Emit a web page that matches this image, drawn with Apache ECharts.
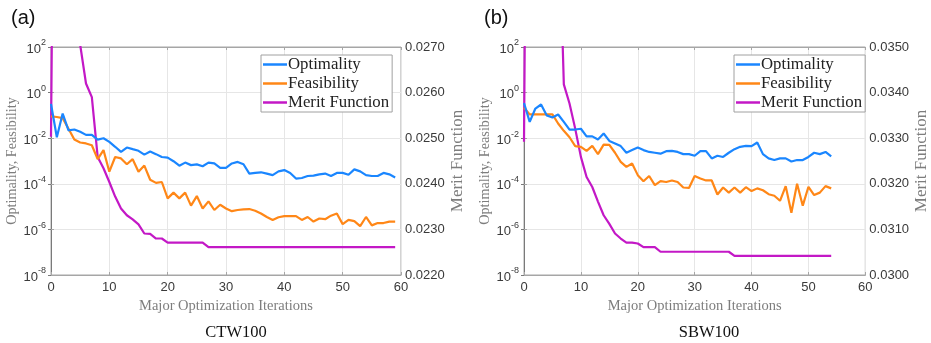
<!DOCTYPE html>
<html>
<head>
<meta charset="utf-8">
<script src="https://cdn.jsdelivr.net/npm/echarts@6/dist/echarts.min.js"></script>
<style>
  html, body { margin: 0; padding: 0; background: #fff; }
  #chart { width: 931px; height: 343px; }
</style>
</head>
<body>
<div id="chart"></div>
<script>
// Convergence histories of the two optimisation runs.
// Optimality / Feasibility use the left log axis, Merit Function the right linear axis.
const seriesNames = ['Optimality', 'Feasibility', 'Merit Function'];
const panelLabels = ['(a)', '(b)'];
const caseNames = ['CTW100', 'SBW100'];
const xTicks = [0, 10, 20, 30, 40, 50, 60];

// CTW100
const optimalityA = [
  3.2e-1, 1.1e-2, 1.2e-1, 2.2e-2, 2.4e-2, 1.9e-2, 1.4e-2, 1.4e-2, 8.7e-3, 1.0e-2,
  6.9e-3, 4.2e-3, 2.5e-3, 3.9e-3, 3.3e-3, 2.8e-3, 1.9e-3, 2.6e-3, 2.0e-3, 1.5e-3,
  1.4e-3, 9.8e-4, 6.2e-4, 8.5e-4, 6.6e-4, 7.1e-4, 5.9e-4, 8.5e-4, 7.8e-4, 5.0e-4,
  5.0e-4, 7.8e-4, 9.1e-4, 7.2e-4, 2.8e-4, 3.0e-4, 3.2e-4, 2.8e-4, 2.4e-4, 3.5e-4,
  4.0e-4, 3.0e-4, 1.7e-4, 1.8e-4, 2.2e-4, 2.3e-4, 2.6e-4, 2.8e-4, 2.2e-4, 3.0e-4,
  3.0e-4, 2.5e-4, 4.3e-4, 3.5e-4, 2.4e-4, 2.2e-4, 2.2e-4, 3.0e-4, 2.6e-4, 1.9e-4
];
const feasibilityA = [
  9.1e-2, 8.5e-2, 7.6e-2, 2.6e-2, 8.7e-3, 6.5e-3, 5.9e-3, 4.9e-3, 1.2e-3, 3.0e-3,
  3.4e-4, 1.5e-3, 1.3e-3, 7.2e-4, 1.2e-3, 3.4e-4, 6.3e-4, 1.5e-4, 1.1e-4, 1.2e-4,
  2.3e-5, 4.1e-5, 2.3e-5, 4.1e-5, 1.1e-5, 2.9e-5, 8.3e-6, 1.7e-5, 7.1e-6, 1.2e-5,
  8.3e-6, 6.3e-6, 7.1e-6, 7.6e-6, 7.8e-6, 6.6e-6, 5.0e-6, 3.5e-6, 2.6e-6, 3.4e-6,
  3.8e-6, 3.8e-6, 3.8e-6, 2.6e-6, 3.5e-6, 2.2e-6, 3.0e-6, 2.8e-6, 4.0e-6, 5.0e-6,
  1.7e-6, 2.6e-6, 2.3e-6, 1.4e-6, 3.5e-6, 1.5e-6, 1.9e-6, 1.9e-6, 2.2e-6, 2.2e-6
];
const meritA = [
  0.02503, 0.04000, 0.04000, 0.04000, 0.04000, 0.02705, 0.02620, 0.02590, 0.02459, 0.02434,
  0.02404, 0.02372, 0.02346, 0.02331, 0.02322, 0.02311, 0.02291, 0.02290, 0.02280, 0.02280,
  0.02271, 0.02271, 0.02271, 0.02271, 0.02271, 0.02271, 0.02271, 0.02261, 0.02261, 0.02261,
  0.02261, 0.02261, 0.02261, 0.02261, 0.02261, 0.02261, 0.02261, 0.02261, 0.02261, 0.02261,
  0.02261, 0.02261, 0.02261, 0.02261, 0.02261, 0.02261, 0.02261, 0.02261, 0.02261, 0.02261,
  0.02261, 0.02261, 0.02261, 0.02261, 0.02261, 0.02261, 0.02261, 0.02261, 0.02261, 0.02261
];
const meritTicksA = [0.0220, 0.0270];

// SBW100
const optimalityB = [
  3.5e-1, 5.2e-2, 2.0e-1, 3.0e-1, 1.0e-1, 8.1e-2, 1.1e-1, 5.2e-2, 2.4e-2, 2.4e-2,
  2.6e-2, 1.2e-2, 1.2e-2, 8.7e-3, 1.6e-2, 7.6e-3, 5.9e-3, 4.5e-3, 2.3e-3, 3.0e-3,
  3.9e-3, 3.0e-3, 2.5e-3, 2.3e-3, 2.1e-3, 2.7e-3, 2.8e-3, 2.5e-3, 2.0e-3, 2.0e-3,
  1.7e-3, 2.7e-3, 2.7e-3, 1.3e-3, 1.7e-3, 1.5e-3, 2.3e-3, 3.3e-3, 4.2e-3, 4.6e-3,
  4.5e-3, 6.5e-3, 2.0e-3, 1.3e-3, 1.1e-3, 1.3e-3, 1.3e-3, 9.5e-4, 1.1e-3, 1.1e-3,
  1.5e-3, 2.3e-3, 2.0e-3, 2.5e-3, 1.6e-3
];
const feasibilityB = [
  2.2e-1, 1.1e-1, 1.1e-1, 1.1e-1, 1.1e-1, 1.1e-1, 4.4e-2, 2.1e-2, 1.1e-2, 4.5e-3,
  4.2e-3, 2.8e-3, 4.6e-3, 2.0e-3, 5.2e-3, 5.1e-3, 2.3e-3, 9.1e-4, 5.5e-4, 7.8e-4,
  2.4e-4, 1.3e-4, 2.2e-4, 8.7e-5, 1.3e-4, 1.2e-4, 1.4e-4, 1.2e-4, 6.9e-5, 6.6e-5,
  2.2e-4, 1.7e-4, 1.4e-4, 1.4e-4, 3.4e-5, 6.9e-5, 4.1e-5, 6.9e-5, 4.1e-5, 7.1e-5,
  4.8e-5, 6.3e-5, 5.2e-5, 3.5e-5, 3.0e-5, 1.8e-5, 7.9e-5, 5.4e-6, 1.0e-4, 1.1e-5,
  7.4e-5, 3.2e-5, 4.1e-5, 7.9e-5, 6.3e-5
];
const meritB = [
  0.03292, 0.05000, 0.05000, 0.05000, 0.05000, 0.05000, 0.03850, 0.03418, 0.03376, 0.03321,
  0.03259, 0.03215, 0.03193, 0.03161, 0.03131, 0.03112, 0.03091, 0.03080, 0.03071, 0.03071,
  0.03069, 0.03061, 0.03061, 0.03061, 0.03051, 0.03051, 0.03051, 0.03051, 0.03051, 0.03051,
  0.03051, 0.03051, 0.03051, 0.03051, 0.03051, 0.03051, 0.03051, 0.03042, 0.03042, 0.03042,
  0.03042, 0.03042, 0.03042, 0.03042, 0.03042, 0.03042, 0.03042, 0.03042, 0.03042, 0.03042,
  0.03042, 0.03042, 0.03042, 0.03042, 0.03042
];
const meritTicksB = [0.0300, 0.0350];

const colors = ['#1a86ff', '#ff8717', '#c318c6'];
const SERIF = '"Liberation Serif", "DejaVu Serif", serif';
const SANS = '"Liberation Sans", Arial, sans-serif';
const FRAME = '#a6a6a6';
const GRIDLINE = '#e6e6e6';
const NAME_GRAY = '#7d7d7d';

const panels = [
  { left: 51, opt: optimalityA, feas: feasibilityA, merit: meritA, mTicks: meritTicksA },
  { left: 524, opt: optimalityB, feas: feasibilityB, merit: meritB, mTicks: meritTicksB }
];
const PLOT_W = 350, PLOT_TOP = 47, PLOT_H = 228;

const pairs = arr => arr.map((v, i) => [i, v]);

const grid = [], xAxis = [], yAxis = [], series = [], legend = [], title = [];

panels.forEach((p, k) => {
  grid.push({
    left: p.left, top: PLOT_TOP, width: PLOT_W, height: PLOT_H,
    show: true, borderColor: FRAME, borderWidth: 1, backgroundColor: '#fff'
  });
  // bottom x axis with labels
  xAxis.push({
    type: 'value', gridIndex: k, min: xTicks[0], max: xTicks[xTicks.length - 1], interval: 10,
    name: 'Major Optimization Iterations', nameLocation: 'middle', nameGap: 19,
    nameTextStyle: { fontFamily: SERIF, fontSize: 14.5, color: NAME_GRAY },
    axisLine: { show: true, lineStyle: { color: FRAME } },
    axisTick: { show: true, inside: true, length: 3, lineStyle: { color: FRAME } },
    axisLabel: { fontFamily: SANS, fontSize: 13, color: '#3a3a3a', margin: 6 },
    splitLine: { show: true, lineStyle: { color: GRIDLINE, width: 1 } }
  });
  // top x axis (ticks only)
  xAxis.push({
    type: 'value', gridIndex: k, position: 'top', min: 0, max: 60, interval: 10,
    axisLine: { show: true, lineStyle: { color: FRAME } },
    axisTick: { show: true, inside: true, length: 3, lineStyle: { color: FRAME } },
    axisLabel: { show: false }, splitLine: { show: false }
  });
  // left log axis
  yAxis.push({
    type: 'log', logBase: 10, gridIndex: k, min: 1e-8, max: 1e2, interval: 2,
    name: 'Optimality, Feasibility', nameLocation: 'middle', nameGap: 30, nameRotate: 90,
    nameTextStyle: { fontFamily: SERIF, fontSize: 14.2, color: NAME_GRAY },
    axisLine: { show: true, lineStyle: { color: FRAME } },
    axisTick: { show: true, inside: true, length: 3, lineStyle: { color: FRAME } },
    minorTick: { show: false },
    axisLabel: {
      margin: 5, color: '#3a3a3a',
      formatter: v => '{b|10}{s|' + Math.round(Math.log10(v)) + '}',
      rich: {
        b: { fontFamily: SANS, fontSize: 13, color: '#3a3a3a', verticalAlign: 'bottom', lineHeight: 17 },
        s: { fontFamily: SANS, fontSize: 9, color: '#3a3a3a', verticalAlign: 'top', lineHeight: 17 }
      }
    },
    splitLine: { show: true, lineStyle: { color: GRIDLINE, width: 1 } }
  });
  // right merit axis
  yAxis.push({
    type: 'value', gridIndex: k, position: 'right', min: p.mTicks[0], max: p.mTicks[1], interval: 0.001,
    name: 'Merit Function', nameLocation: 'middle', nameGap: 44, nameRotate: 90,
    nameTextStyle: { fontFamily: SERIF, fontSize: 17, color: NAME_GRAY },
    axisLine: { show: true, lineStyle: { color: '#7a7a7a' } },
    axisTick: { show: true, inside: true, length: 3, lineStyle: { color: '#7a7a7a' } },
    axisLabel: { fontFamily: SANS, fontSize: 13, color: '#3a3a3a', margin: 4, formatter: v => v.toFixed(4) },
    splitLine: { show: false }
  });

  const data = [p.opt, p.feas, p.merit];
  data.forEach((arr, j) => {
    series.push({
      name: seriesNames[j], type: 'line',
      xAxisIndex: 2 * k, yAxisIndex: 2 * k + (j === 2 ? 1 : 0),
      data: pairs(arr), showSymbol: false, symbol: 'none', clip: true,
      lineStyle: { color: colors[j], width: 2.2 }, itemStyle: { color: colors[j] },
      z: 3 - j, animation: false
    });
  });

  legend.push({
    orient: 'vertical', left: p.left + 210, top: 55,
    data: seriesNames, icon: 'rect', itemWidth: 24, itemHeight: 2.5, itemGap: 2,
    padding: [1, 3, 1, 2], backgroundColor: '#fff', borderColor: '#a0a0a0', borderWidth: 1,
    textStyle: { fontFamily: SERIF, fontSize: 16.8, color: '#222', padding: [0, 0, 0, -4] },
    selectedMode: false
  });

  title.push({
    text: panelLabels[k], left: k === 0 ? 6 : 479, top: 3,
    textStyle: { fontFamily: SANS, fontSize: 20, fontWeight: 'normal', color: '#111' }
  });
  title.push({
    text: caseNames[k], left: p.left + PLOT_W / 2 + 5, top: 319, textAlign: 'center',
    textStyle: { fontFamily: SERIF, fontSize: 16.5, fontWeight: 'normal', color: '#111' }
  });
});

const chart = echarts.init(document.getElementById('chart'), null, { renderer: 'canvas' });
chart.setOption({
  animation: false, backgroundColor: '#fff', color: colors,
  title, grid, xAxis, yAxis, series, legend
});
</script>
</body>
</html>
